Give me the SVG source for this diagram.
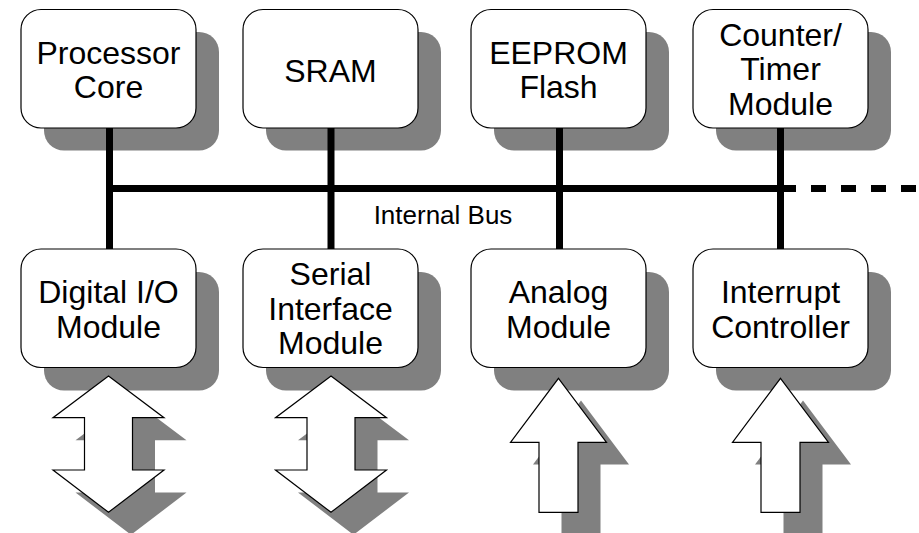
<svg xmlns="http://www.w3.org/2000/svg" width="919" height="533" viewBox="0 0 919 533">
<style>
.box{fill:#ffffff;stroke:#000000;stroke-width:1.2}
.shadow{fill:#808080;stroke:none}
.arrow{fill:#ffffff;stroke:#000000;stroke-width:1.2;stroke-linejoin:miter}
.lbl{font-family:"Liberation Sans",Arial,sans-serif;font-size:32px;fill:#000000;text-anchor:middle}
.bus{font-family:"Liberation Sans",Arial,sans-serif;font-size:26px;fill:#000000;text-anchor:middle}
.wire{stroke:#000000;stroke-width:7;fill:none}
</style>
<defs>
<rect id="nb" x="0" y="0" width="175" height="118.5" rx="20" ry="20"/>
<polygon id="dbl" points="0,0 55.5,41.7 24,41.7 24,94 55.5,94 0,136.3 -55.5,94 -24,94 -24,41.7 -55.5,41.7"/>
<polygon id="up" points="0,0 48,64 19.5,64 19.5,134 -19.5,134 -19.5,64 -48,64"/>
</defs>
<rect width="919" height="533" fill="#ffffff"/>

<!-- shadows of boxes -->
<g id="shadows">
<use href="#nb" class="shadow" x="44" y="32"/>
<use href="#nb" class="shadow" x="266" y="32"/>
<use href="#nb" class="shadow" x="494" y="32"/>
<use href="#nb" class="shadow" x="716" y="32"/>
<use href="#nb" class="shadow" x="44" y="272"/>
<use href="#nb" class="shadow" x="266" y="272"/>
<use href="#nb" class="shadow" x="494" y="272"/>
<use href="#nb" class="shadow" x="716" y="272"/>
</g>

<g id="connectors">
<line class="wire" x1="106" y1="188.5" x2="796" y2="188.5"/>
<line class="wire" x1="811" y1="188.5" x2="919" y2="188.5" stroke-dasharray="15 15"/>
<line class="wire" x1="109.5" y1="128" x2="109.5" y2="249.5"/>
<line class="wire" x1="331" y1="128" x2="331" y2="249.5"/>
<line class="wire" x1="559.5" y1="128" x2="559.5" y2="249.5"/>
<line class="wire" x1="780.5" y1="128" x2="780.5" y2="249.5"/>
<text class="bus" x="443" y="223.5">Internal Bus</text>
</g>

<g id="processor-core">
<use href="#nb" class="box" x="21" y="9.5"/>
<text class="lbl" x="108.5" y="63.5">Processor</text>
<text class="lbl" x="108.5" y="98">Core</text>
</g>
<g id="sram">
<use href="#nb" class="box" x="243" y="9.5"/>
<text class="lbl" x="330.5" y="81.5">SRAM</text>
</g>
<g id="eeprom-flash">
<use href="#nb" class="box" x="471" y="9.5"/>
<text class="lbl" x="558.5" y="63.5">EEPROM</text>
<text class="lbl" x="558.5" y="98">Flash</text>
</g>
<g id="counter-timer">
<use href="#nb" class="box" x="693" y="9.5"/>
<text class="lbl" x="780.5" y="45.5">Counter/</text>
<text class="lbl" x="780.5" y="80">Timer</text>
<text class="lbl" x="780.5" y="114.5">Module</text>
</g>

<g id="digital-io">
<use href="#nb" class="box" x="21" y="249"/>
<text class="lbl" x="108.5" y="303">Digital I/O</text>
<text class="lbl" x="108.5" y="337.5">Module</text>
</g>
<g id="serial-interface">
<use href="#nb" class="box" x="243" y="249"/>
<text class="lbl" x="330.5" y="285">Serial</text>
<text class="lbl" x="330.5" y="319.5">Interface</text>
<text class="lbl" x="330.5" y="354">Module</text>
</g>
<g id="analog-module">
<use href="#nb" class="box" x="471" y="249"/>
<text class="lbl" x="558.5" y="303">Analog</text>
<text class="lbl" x="558.5" y="337.5">Module</text>
</g>
<g id="interrupt-controller">
<use href="#nb" class="box" x="693" y="249"/>
<text class="lbl" x="780.5" y="303">Interrupt</text>
<text class="lbl" x="780.5" y="337.5">Controller</text>
</g>

<g id="arrow-digital-io">
<use href="#dbl" class="shadow" x="131" y="398.5"/>
<use href="#dbl" class="arrow" x="108.5" y="376"/>
</g>
<g id="arrow-serial">
<use href="#dbl" class="shadow" x="353.5" y="398.5"/>
<use href="#dbl" class="arrow" x="331" y="376"/>
</g>
<g id="arrow-analog">
<use href="#up" class="shadow" x="581" y="400.5"/>
<use href="#up" class="arrow" x="558.5" y="378.3"/>
</g>
<g id="arrow-interrupt">
<use href="#up" class="shadow" x="803" y="400.5"/>
<use href="#up" class="arrow" x="780.5" y="378.3"/>
</g>
</svg>
